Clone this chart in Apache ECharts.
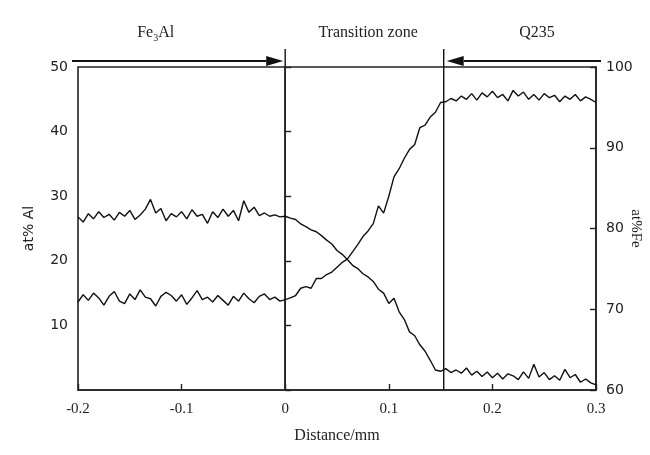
<!DOCTYPE html>
<html>
<head>
<meta charset="utf-8">
<script src="https://cdn.jsdelivr.net/npm/echarts@6/dist/echarts.min.js"></script>
<style>
  html, body { margin: 0; padding: 0; background: #fff; }
  #chart { width: 650px; height: 455px; }
</style>
</head>
<body>
<div id="chart"></div>
<script>
// distance, mm
const distance = [
  -0.200, -0.195, -0.190, -0.185, -0.180, -0.175, -0.170, -0.165, -0.160, -0.155,
  -0.150, -0.145, -0.140, -0.135, -0.130, -0.125, -0.120, -0.115, -0.110, -0.105,
  -0.100, -0.095, -0.090, -0.085, -0.080, -0.075, -0.070, -0.065, -0.060, -0.055,
  -0.050, -0.045, -0.040, -0.035, -0.030, -0.025, -0.020, -0.015, -0.010, -0.005,
  0.000, 0.005, 0.010, 0.015, 0.020, 0.025, 0.030, 0.035, 0.040, 0.045,
  0.050, 0.055, 0.060, 0.065, 0.070, 0.075, 0.080, 0.085, 0.090, 0.095,
  0.100, 0.105, 0.110, 0.115, 0.120, 0.125, 0.130, 0.135, 0.140, 0.145,
  0.150, 0.155, 0.160, 0.165, 0.170, 0.175, 0.180, 0.185, 0.190, 0.195,
  0.200, 0.205, 0.210, 0.215, 0.220, 0.225, 0.230, 0.235, 0.240, 0.245,
  0.250, 0.255, 0.260, 0.265, 0.270, 0.275, 0.280, 0.285, 0.290, 0.295,
  0.300
]

// at% Al (left axis)
const alValues = [
  26.8, 26.0, 27.3, 26.5, 27.6, 26.7, 27.2, 26.3, 27.5, 26.9,
  27.8, 26.4, 27.1, 28.0, 29.5, 27.4, 28.1, 26.2, 27.3, 26.8,
  27.6, 26.5, 27.9, 26.9, 27.2, 25.8, 27.6, 26.7, 28.0, 26.9,
  27.8, 26.2, 29.3, 27.5, 28.3, 27.0, 27.4, 26.9, 27.1, 26.8,
  26.9, 26.6, 26.4, 25.7, 25.3, 24.8, 24.5, 23.9, 23.2, 22.6,
  21.6, 21.0, 20.2, 19.3, 18.8, 18.0, 17.5, 16.8, 15.6, 15.0,
  13.4, 14.2, 12.1, 10.9, 9.0, 8.4, 7.0, 6.0, 4.6, 3.1,
  2.9, 3.3, 2.7, 3.1, 2.6, 3.4, 2.3, 2.9, 2.1, 2.8,
  1.9, 2.6, 1.7, 2.5, 2.2, 1.6, 2.8, 1.8, 4.0, 2.0,
  2.7, 1.6, 2.2, 1.5, 3.2, 1.9, 2.4, 1.2, 1.7, 1.1,
  0.8
]

// at% Fe (right axis)
const feValues = [
  70.9, 71.8, 71.1, 72.0, 71.4, 70.5, 71.6, 72.2, 71.0, 70.7,
  71.9, 71.2, 72.4, 71.5, 71.3, 70.4, 71.6, 72.1, 71.7, 71.0,
  71.8, 70.6, 71.4, 72.3, 71.2, 71.5, 70.9, 71.7, 71.1, 70.5,
  71.6, 71.0, 72.0, 71.3, 70.8, 71.6, 71.9, 71.2, 71.5, 71.0,
  71.2, 71.4, 71.7, 72.6, 72.8, 72.6, 73.8, 73.8, 74.3, 74.6,
  75.2, 75.8, 76.2, 77.1, 78.0, 79.0, 79.7, 80.6, 82.8, 81.9,
  84.0, 86.4, 87.4, 88.7, 89.8, 90.4, 92.5, 92.8, 93.8, 94.4,
  95.6, 95.7, 96.1, 95.8, 96.4, 96.0, 96.7, 95.9, 96.8, 96.3,
  97.0, 96.2, 96.6, 95.8, 97.1, 96.4, 96.9, 96.0, 96.6, 95.9,
  96.7, 96.2, 96.5, 95.7, 96.4, 96.0, 96.6, 95.8, 96.3, 96.0,
  95.6
]

const zoneEdges = [0, 0.153]
const zoneLabels = ['Fe{s|3}Al', 'Transition zone', 'Q235']
const zoneLabelAt = [-0.125, 0.08, 0.243]

const serif = '"Liberation Serif", "DejaVu Serif", serif'
const sans = '"DejaVu Sans", "Liberation Sans", sans-serif'

const chart = echarts.init(document.getElementById('chart'))

function fmtX(v) {
  const r = Math.round(v * 10) / 10
  return r === 0 ? '0' : String(r)
}

chart.setOption({
  animation: false,
  backgroundColor: '#fff',
  grid: {
    left: 78, right: 54, top: 67, bottom: 65,
    outerBoundsMode: 'none',
    show: true, borderColor: '#222', borderWidth: 1.6
  },
  xAxis: {
    type: 'value',
    min: -0.2,
    max: 0.3,
    interval: 0.1,
    name: 'Distance/mm',
    nameLocation: 'middle',
    nameGap: 38,
    nameTextStyle: { fontFamily: serif, fontSize: 16, color: '#222' },
    axisLine: { lineStyle: { color: '#222', width: 1.6 } },
    axisTick: { inside: true, length: 6, lineStyle: { color: '#222', width: 1.4 } },
    axisLabel: { fontFamily: serif, fontSize: 15, color: '#222', margin: 12, formatter: fmtX },
    splitLine: { show: false }
  },
  yAxis: [{
    type: 'value',
    min: 0,
    max: 50,
    interval: 10,
    position: 'left',
    name: 'at% Al',
    nameLocation: 'middle',
    nameRotate: 90,
    nameGap: 42,
    nameTextStyle: { fontFamily: sans, fontSize: 14, color: '#222' },
    axisLine: { show: true, lineStyle: { color: '#222', width: 1.6 } },
    axisTick: { show: true, inside: true, length: 6, lineStyle: { color: '#222', width: 1.4 } },
    axisLabel: { fontFamily: sans, fontSize: 14, color: '#222', margin: 10, formatter: v => v === 0 ? '' : String(v) },
    splitLine: { show: false }
  }, {
    type: 'value',
    min: 60,
    max: 100,
    interval: 10,
    position: 'right',
    name: 'at%Fe',
    nameLocation: 'middle',
    nameRotate: -90,
    nameGap: 32,
    nameMoveOverlap: false,
    nameTextStyle: { fontFamily: serif, fontSize: 15, color: '#222' },
    axisLine: { show: true, lineStyle: { color: '#222', width: 1.6 } },
    axisTick: { show: true, inside: true, length: 6, lineStyle: { color: '#222', width: 1.4 } },
    axisLabel: { fontFamily: sans, fontSize: 14, color: '#222', margin: 10 },
    splitLine: { show: false }
  }],
  series: [{
    name: 'Al',
    type: 'line',
    yAxisIndex: 0,
    showSymbol: false,
    lineStyle: { color: '#111', width: 1.4 },
    data: distance.map((d, i) => [d, alValues[i]])
  }, {
    name: 'Fe',
    type: 'line',
    yAxisIndex: 1,
    showSymbol: false,
    lineStyle: { color: '#111', width: 1.4 },
    data: distance.map((d, i) => [d, feValues[i]])
  }]
})

// annotations above the plot: zone borders, arrows, zone names
const px = v => chart.convertToPixel({ xAxisIndex: 0 }, v)
const yBottom = chart.convertToPixel({ yAxisIndex: 0 }, 0)
const arrowY = 61
const gfx = []

zoneEdges.forEach(e => {
  gfx.push({
    type: 'line',
    shape: { x1: px(e), y1: 49, x2: px(e), y2: yBottom },
    style: { stroke: '#111', lineWidth: 1.4 }
  })
})

function arrow(from, to) {
  const dir = to > from ? 1 : -1
  const head = 17
  gfx.push({
    type: 'line',
    shape: { x1: from, y1: arrowY, x2: to - dir * head, y2: arrowY },
    style: { stroke: '#111', lineWidth: 2 }
  })
  gfx.push({
    type: 'polygon',
    shape: { points: [[to, arrowY], [to - dir * head, arrowY - 5], [to - dir * head, arrowY + 5]] },
    style: { fill: '#111' }
  })
}
arrow(px(-0.2) - 6, px(zoneEdges[0]) - 2)
arrow(px(0.3) + 5, px(zoneEdges[1]) + 3)

zoneLabels.forEach((t, i) => {
  gfx.push({
    type: 'text',
    x: px(zoneLabelAt[i]),
    y: 33,
    style: {
      text: t,
      align: 'center',
      verticalAlign: 'middle',
      fontFamily: serif,
      fontSize: 16,
      fill: '#222',
      rich: { s: { fontFamily: serif, fontSize: 10, fill: '#222', padding: [10, 0, 0, 0] } }
    }
  })
})

chart.setOption({ graphic: gfx })
</script>
</body>
</html>
